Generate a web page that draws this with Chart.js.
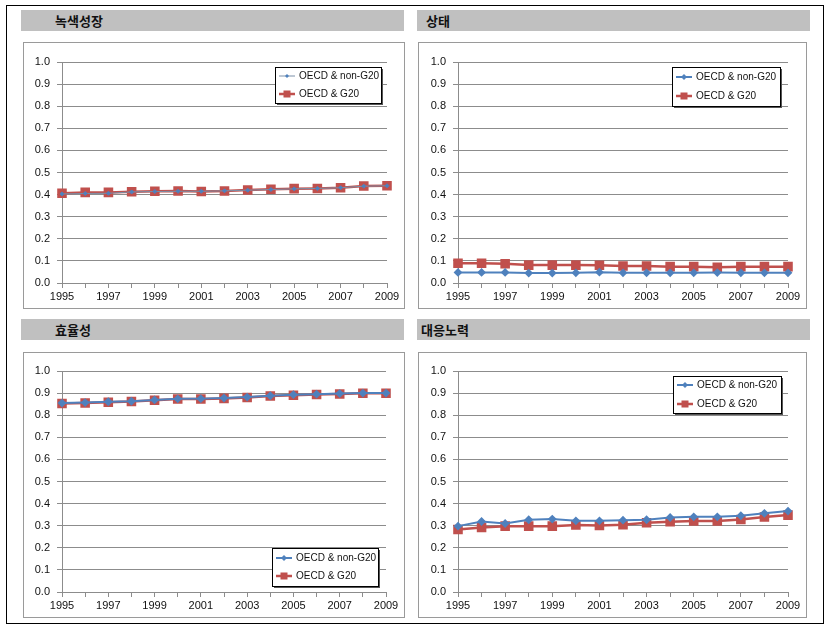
<!DOCTYPE html>
<html>
<head>
<meta charset="utf-8">
<script src="https://cdn.jsdelivr.net/npm/chart.js@4"></script>
<style>
  body { margin: 0; background: #fff; width: 829px; height: 629px; position: relative; overflow: hidden; }
  .frame { position: absolute; left: 6px; top: 5px; width: 816px; height: 617px; border: 1px solid #000; }
  .bar { position: absolute; height: 21px; background: #c0c0c0; font: bold 13px "Noto Sans CJK KR", sans-serif; line-height: 21px; color: #111; }
  .box { position: absolute; border: 1px solid #9a9a9a; background: #fff; }
  .box canvas { display: block; }
</style>
</head>
<body>
<div class="frame"></div>

<div class="bar" style="left:21px; top:10px; width:383px;"><span style="margin-left:34px">녹색성장</span></div>
<div class="bar" style="left:417px; top:10px; width:393px;"><span style="margin-left:9px">상태</span></div>
<div class="bar" style="left:21px; top:319px; width:383px;"><span style="margin-left:34px">효율성</span></div>
<div class="bar" style="left:417px; top:319px; width:393px;"><span style="margin-left:4px">대응노력</span></div>

<div class="box" style="left:23px; top:42px;"><canvas id="c1" width="380" height="265"></canvas></div>
<div class="box" style="left:418px; top:42px;"><canvas id="c2" width="387" height="265"></canvas></div>
<div class="box" style="left:23px; top:352px;"><canvas id="c3" width="380" height="264"></canvas></div>
<div class="box" style="left:418px; top:352px;"><canvas id="c4" width="387" height="264"></canvas></div>

<script>
// 데이터
const years = ["1995", "1996", "1997", "1998", "1999", "2000", "2001", "2002",
  "2003", "2004", "2005", "2006", "2007", "2008", "2009"];
const yTicks = [0, 0.1, 0.2, 0.3, 0.4, 0.5, 0.6, 0.7, 0.8, 0.9, 1.0];
const seriesNames = ["OECD & non-G20", "OECD & G20"];

// 녹색성장
const greenNonG20 = [0.403, 0.405, 0.406, 0.412, 0.414, 0.415, 0.415, 0.417,
  0.420, 0.423, 0.426, 0.428, 0.431, 0.438, 0.440];
const greenG20 = [0.406, 0.410, 0.410, 0.413, 0.415, 0.416, 0.414, 0.416,
  0.421, 0.424, 0.427, 0.428, 0.431, 0.439, 0.440];
// 상태
const stateNonG20 = [0.048, 0.048, 0.048, 0.045, 0.045, 0.046, 0.049, 0.046,
  0.046, 0.046, 0.046, 0.047, 0.046, 0.046, 0.046];
const stateG20 = [0.089, 0.089, 0.087, 0.081, 0.081, 0.081, 0.080, 0.077,
  0.077, 0.074, 0.074, 0.071, 0.074, 0.074, 0.074];
// 효율성
const effNonG20 = [0.855, 0.857, 0.861, 0.863, 0.869, 0.874, 0.875, 0.878,
  0.882, 0.888, 0.893, 0.895, 0.898, 0.900, 0.900];
const effG20 = [0.853, 0.855, 0.859, 0.862, 0.868, 0.873, 0.873, 0.876,
  0.880, 0.887, 0.890, 0.894, 0.896, 0.899, 0.899];
// 대응노력
const respNonG20 = [0.298, 0.319, 0.310, 0.327, 0.330, 0.322, 0.322, 0.325,
  0.327, 0.337, 0.340, 0.340, 0.345, 0.356, 0.366];
const respG20 = [0.283, 0.292, 0.298, 0.298, 0.298, 0.303, 0.301, 0.304,
  0.313, 0.318, 0.321, 0.321, 0.328, 0.339, 0.348];

const BLUE = "#4F81BD";
const RED = "#C0504D";
const FONT = "Liberation Sans";

// 범례 (차트 안쪽 상자)
const boxLegend = {
  id: "boxLegend",
  afterDraw(chart, args, opts) {
    const ctx = chart.ctx;
    const { x, y, w, h, gap } = opts;
    ctx.save();
    ctx.fillStyle = "#555";
    ctx.fillRect(x + 2, y + 2, w, h);
    ctx.fillStyle = "#fff";
    ctx.fillRect(x, y, w, h);
    ctx.strokeStyle = "#000";
    ctx.lineWidth = 1;
    ctx.strokeRect(x + 0.5, y + 0.5, w, h);
    chart.data.datasets.forEach((ds, i) => {
      const cy = y + h / 2 + (i - 0.5) * gap;
      const lx = x + 4;
      ctx.strokeStyle = ds.borderColor;
      ctx.lineWidth = ds.borderWidth;
      ctx.beginPath();
      ctx.moveTo(lx, cy);
      ctx.lineTo(lx + 16, cy);
      ctx.stroke();
      const r = ds.pointRadius;
      ctx.fillStyle = ds.pointBackgroundColor;
      ctx.beginPath();
      if (ds.pointStyle === "rect") {
        ctx.fillRect(lx + 8 - r * 0.7, cy - r * 0.7, r * 1.4, r * 1.4);
      } else {
        ctx.moveTo(lx + 8, cy - r);
        ctx.lineTo(lx + 8 + r, cy);
        ctx.lineTo(lx + 8, cy + r);
        ctx.lineTo(lx + 8 - r, cy);
        ctx.closePath();
        ctx.fill();
      }
      ctx.fillStyle = "#111";
      ctx.font = "10px " + FONT;
      ctx.textBaseline = "middle";
      ctx.fillText(ds.label, lx + 20, cy);
    });
    ctx.restore();
  },
};

function makeChart(id, a, b, pad, legend, thinBlue) {
  return new Chart(document.getElementById(id), {
    type: "line",
    data: {
      labels: years,
      datasets: [
        {
          label: seriesNames[0],
          data: a,
          borderColor: thinBlue ? "#7a8fa8" : BLUE,
          backgroundColor: BLUE,
          pointBackgroundColor: BLUE,
          pointBorderColor: BLUE,
          borderWidth: thinBlue ? 1 : 2,
          pointStyle: "rectRot",
          pointRadius: thinBlue ? 2 : 3,
          tension: 0,
        },
        {
          label: seriesNames[1],
          data: b,
          borderColor: RED,
          backgroundColor: RED,
          pointBackgroundColor: RED,
          pointBorderColor: RED,
          borderWidth: 2.5,
          pointStyle: "rect",
          pointRadius: 5,
          tension: 0,
        },
      ],
    },
    options: {
      responsive: false,
      animation: false,
      layout: { padding: { top: pad.top, right: pad.right, left: 0, bottom: 0 } },
      plugins: {
        legend: { display: false },
        tooltip: { enabled: false },
        boxLegend: legend,
      },
      scales: {
        x: {
          offset: false,
          afterFit(scale) { scale.height = pad.bottom; },
          grid: {
            drawOnChartArea: false,
            drawTicks: true,
            tickLength: 5,
            color: "#8c8c8c",
          },
          border: { color: "#8c8c8c" },
          ticks: {
            autoSkip: false,
            maxRotation: 0,
            padding: 2,
            color: "#111",
            font: { family: FONT, size: 11 },
            callback: (v, i) => (i % 2 === 0 ? years[i] : ""),
          },
        },
        y: {
          min: 0,
          max: 1,
          afterFit(scale) { scale.width = pad.left; },
          afterBuildTicks(scale) { scale.ticks = yTicks.map((v) => ({ value: v })); },
          grid: { color: "#8c8c8c", tickLength: 5 },
          border: { color: "#8c8c8c" },
          ticks: {
            padding: 7,
            color: "#111",
            font: { family: FONT, size: 11 },
            callback: (v) => v.toFixed(1),
          },
        },
      },
    },
    plugins: [boxLegend],
  });
}

makeChart("c1", greenNonG20, greenG20,
  { top: 19, right: 17, left: 38, bottom: 25 },
  { x: 251, y: 24, w: 106, h: 36, gap: 18 }, true);
makeChart("c2", stateNonG20, stateG20,
  { top: 19, right: 18, left: 39, bottom: 25 },
  { x: 253, y: 24, w: 108, h: 39, gap: 19 }, false);
makeChart("c3", effNonG20, effG20,
  { top: 18, right: 18, left: 38, bottom: 25 },
  { x: 248, y: 195, w: 106, h: 38, gap: 18 }, false);
makeChart("c4", respNonG20, respG20,
  { top: 18, right: 18, left: 39, bottom: 25 },
  { x: 254, y: 23, w: 108, h: 37, gap: 19 }, false);
</script>
</body>
</html>
